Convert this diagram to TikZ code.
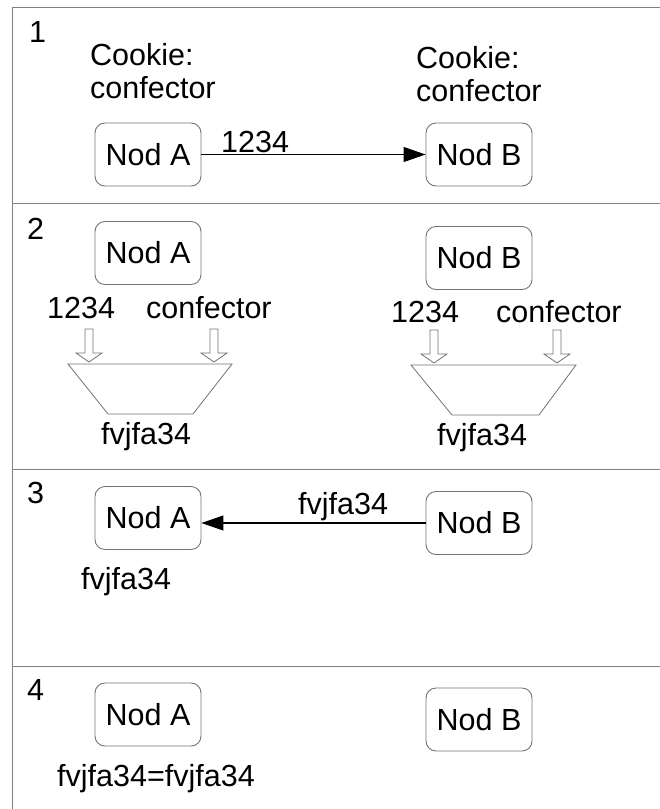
\documentclass[tikz,border=0pt]{standalone}
\usepackage{fontspec}
\setmainfont{Liberation Sans}
\usetikzlibrary{arrows.meta}
\begin{document}
\begin{tikzpicture}[x=1pt,y=-1pt,
  every node/.style={font=\fontsize{30.5}{33}\selectfont, text=black},
  frame/.style={draw=black!50, line width=1pt},
  nodbox/.style={draw=black!55, line width=0.9pt, rounded corners=10pt,
    minimum width=106pt, minimum height=63pt, inner sep=0pt},
  txt/.style={anchor=base west, inner sep=0pt},
  msg/.style={draw=black, line width=1.1pt, -{Triangle[length=22pt,width=15pt]}},
  hollow/.style={draw=black!55, line width=0.8pt, fill=white},
  funnel/.style={draw=black!55, line width=0.8pt}]
  \useasboundingbox (0,0) rectangle (660,809);

  % panel frames
  \draw[frame] (660,7) -- (12,7) -- (12,809);
  \draw[frame] (12,203) -- (660,203);
  \draw[frame] (12,469) -- (660,469);
  \draw[frame] (12,666) -- (660,666);

  % step numbers
  \node[txt] (n1) at (29,42) {1};
  \node[txt] (n2) at (27,239) {2};
  \node[txt] (n3) at (27,503) {3};
  \node[txt] (n4) at (27,700) {4};

  % ---- step 1: A sends 1234 to B
  \node[anchor=north west, inner sep=0pt, align=left] (ckA) at (90,43) {Cookie:\\confector};
  \node[anchor=north west, inner sep=0pt, align=left] (ckB) at (416,46) {Cookie:\\confector};
  \node[nodbox] (A1) at (148,154.5) {Nod A};
  \node[nodbox] (B1) at (479,154.5) {Nod B};
  \draw[msg] (A1) -- (B1);
  \node[txt] (l1) at (221,152) {1234};

  % ---- step 2: both sides hash the pair
  \node[nodbox] (A2) at (148,253) {Nod A};
  \node[nodbox] (B2) at (479,258) {Nod B};
  \node[txt] (inA1) at (47,318) {1234};
  \node[txt] (inA2) at (146,318) {confector};
  \node[txt] (inB1) at (391,322) {1234};
  \node[txt] (inB2) at (496,322) {confector};
  \foreach \cx/\ty in {89/329, 214/329, 434/330, 557/330}{
    \draw[hollow] (\cx-4,\ty) -- (\cx+4,\ty) -- (\cx+4,\ty+24) -- (\cx+13,\ty+24)
      -- (\cx,\ty+33) -- (\cx-13,\ty+24) -- (\cx-4,\ty+24) -- cycle;
  }
  \draw[funnel] (68,364) -- (232,364) -- (193,414) -- (108,414) -- cycle;
  \draw[funnel] (411,365) -- (576,365) -- (539,415) -- (452,415) -- cycle;
  \node[txt] (hA) at (101,444) {fvjfa34};
  \node[txt] (hB) at (437,445) {fvjfa34};

  % ---- step 3: B returns its hash
  \node[nodbox] (A3) at (148,518) {Nod A};
  \node[nodbox] (B3) at (479,523) {Nod B};
  \draw[msg] (B3.west) -- (B3.west -| A3.east);
  \node[txt] (l3) at (298,514) {fvjfa34};
  \node[txt] (rA) at (81,589) {fvjfa34};

  % ---- step 4: A compares
  \node[nodbox] (A4) at (148,714.5) {Nod A};
  \node[nodbox] (B4) at (479,719.5) {Nod B};
  \node[txt] (cmp) at (57,786) {fvjfa34=fvjfa34};
\end{tikzpicture}
\end{document}
